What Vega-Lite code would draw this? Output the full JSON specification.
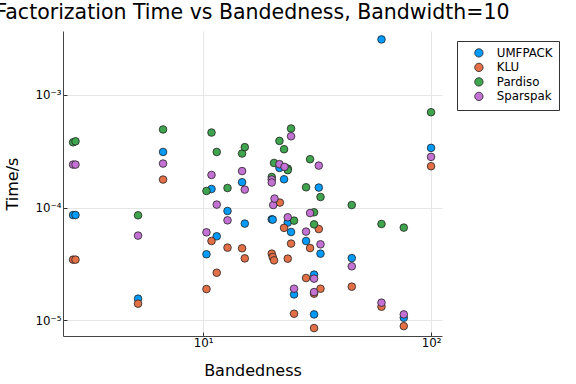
{
  "$schema": "https://vega.github.io/schema/vega-lite/v6.json",
  "width": 379,
  "height": 305,
  "autosize": {"type": "none"},
  "padding": {"left": 63, "top": 31, "right": 134, "bottom": 48},
  "background": "white",
  "title": {
    "text": "Factorization Time vs Bandedness, Bandwidth=10",
    "font": "DejaVu Sans",
    "fontSize": 20.5,
    "fontWeight": "normal",
    "color": "#000000",
    "anchor": "middle",
    "offset": 8
  },
  "config": {
    "view": {"stroke": null},
    "font": "DejaVu Sans",
    "axis": {
      "labelFont": "DejaVu Sans",
      "titleFont": "DejaVu Sans",
      "labelFontSize": 11.8,
      "titleFontSize": 16,
      "titleFontWeight": "normal",
      "labelColor": "#000000",
      "titleColor": "#000000",
      "domainColor": "#444444",
      "domainWidth": 1,
      "tickColor": "#333333",
      "tickSize": -4,
      "tickWidth": 1,
      "gridColor": "#e6e6e6",
      "gridWidth": 1
    },
    "legend": {
      "labelFont": "DejaVu Sans",
      "labelFontSize": 11.8,
      "labelColor": "#000000"
    }
  },
  "data": {
    "values": [
      {"s": "UMFPACK", "b": 2.69, "t": 8.59e-5},
      {"s": "UMFPACK", "b": 2.757, "t": 8.59e-5},
      {"s": "UMFPACK", "b": 5.186, "t": 1.553e-5},
      {"s": "UMFPACK", "b": 6.676, "t": 3.12e-4},
      {"s": "UMFPACK", "b": 10.35, "t": 3.85e-5},
      {"s": "UMFPACK", "b": 10.89, "t": 1.463e-4},
      {"s": "UMFPACK", "b": 11.48, "t": 5.56e-5},
      {"s": "UMFPACK", "b": 12.8, "t": 9.33e-5},
      {"s": "UMFPACK", "b": 14.83, "t": 1.68e-4},
      {"s": "UMFPACK", "b": 15.24, "t": 7.21e-5},
      {"s": "UMFPACK", "b": 20.01, "t": 7.87e-5},
      {"s": "UMFPACK", "b": 20.21, "t": 7.82e-5},
      {"s": "UMFPACK", "b": 21.63, "t": 2.25e-4},
      {"s": "UMFPACK", "b": 22.66, "t": 1.785e-4},
      {"s": "UMFPACK", "b": 23.52, "t": 7.36e-5},
      {"s": "UMFPACK", "b": 24.32, "t": 6.07e-5},
      {"s": "UMFPACK", "b": 25.07, "t": 1.695e-5},
      {"s": "UMFPACK", "b": 28.3, "t": 5.05e-5},
      {"s": "UMFPACK", "b": 30.68, "t": 2.54e-5},
      {"s": "UMFPACK", "b": 30.68, "t": 1.126e-5},
      {"s": "UMFPACK", "b": 32.18, "t": 1.506e-4},
      {"s": "UMFPACK", "b": 32.74, "t": 3.9e-5},
      {"s": "UMFPACK", "b": 44.9, "t": 3.56e-5},
      {"s": "UMFPACK", "b": 60.62, "t": 3.114e-3},
      {"s": "UMFPACK", "b": 75.93, "t": 1.052e-5},
      {"s": "UMFPACK", "b": 100, "t": 3.39e-4},
      {"s": "KLU", "b": 2.69, "t": 3.45e-5},
      {"s": "KLU", "b": 2.757, "t": 3.45e-5},
      {"s": "KLU", "b": 5.186, "t": 1.402e-5},
      {"s": "KLU", "b": 6.676, "t": 1.774e-4},
      {"s": "KLU", "b": 10.35, "t": 1.89e-5},
      {"s": "KLU", "b": 10.89, "t": 5.05e-5},
      {"s": "KLU", "b": 11.48, "t": 2.64e-5},
      {"s": "KLU", "b": 12.8, "t": 4.41e-5},
      {"s": "KLU", "b": 14.83, "t": 4.35e-5},
      {"s": "KLU", "b": 15.24, "t": 3.54e-5},
      {"s": "KLU", "b": 20.01, "t": 3.9e-5},
      {"s": "KLU", "b": 20.21, "t": 3.64e-5},
      {"s": "KLU", "b": 20.48, "t": 3.4e-5},
      {"s": "KLU", "b": 21.72, "t": 1.108e-4},
      {"s": "KLU", "b": 22.66, "t": 6.61e-5},
      {"s": "KLU", "b": 23.52, "t": 3.52e-5},
      {"s": "KLU", "b": 24.32, "t": 4.79e-5},
      {"s": "KLU", "b": 25.07, "t": 1.142e-5},
      {"s": "KLU", "b": 28.3, "t": 2.37e-5},
      {"s": "KLU", "b": 29.47, "t": 4.37e-5},
      {"s": "KLU", "b": 30.68, "t": 1.72e-5},
      {"s": "KLU", "b": 30.68, "t": 8.51e-6},
      {"s": "KLU", "b": 32.18, "t": 6.45e-5},
      {"s": "KLU", "b": 32.74, "t": 1.905e-5},
      {"s": "KLU", "b": 44.9, "t": 1.985e-5},
      {"s": "KLU", "b": 60.62, "t": 1.318e-5},
      {"s": "KLU", "b": 75.93, "t": 8.86e-6},
      {"s": "KLU", "b": 100, "t": 2.33e-4},
      {"s": "Pardiso", "b": 2.69, "t": 3.8e-4},
      {"s": "Pardiso", "b": 2.757, "t": 3.88e-4},
      {"s": "Pardiso", "b": 5.186, "t": 8.54e-5},
      {"s": "Pardiso", "b": 6.676, "t": 4.94e-4},
      {"s": "Pardiso", "b": 10.35, "t": 1.405e-4},
      {"s": "Pardiso", "b": 10.89, "t": 4.64e-4},
      {"s": "Pardiso", "b": 11.48, "t": 3.12e-4},
      {"s": "Pardiso", "b": 12.8, "t": 1.493e-4},
      {"s": "Pardiso", "b": 14.83, "t": 3.02e-4},
      {"s": "Pardiso", "b": 15.24, "t": 3.44e-4},
      {"s": "Pardiso", "b": 20.01, "t": 1.87e-4},
      {"s": "Pardiso", "b": 20.48, "t": 2.49e-4},
      {"s": "Pardiso", "b": 21.63, "t": 3.91e-4},
      {"s": "Pardiso", "b": 22.66, "t": 3.3e-4},
      {"s": "Pardiso", "b": 23.52, "t": 2.22e-4},
      {"s": "Pardiso", "b": 23.52, "t": 2.15e-4},
      {"s": "Pardiso", "b": 24.32, "t": 5.04e-4},
      {"s": "Pardiso", "b": 25.07, "t": 7.66e-5},
      {"s": "Pardiso", "b": 28.3, "t": 1.515e-4},
      {"s": "Pardiso", "b": 29.47, "t": 2.69e-4},
      {"s": "Pardiso", "b": 30.68, "t": 9.08e-5},
      {"s": "Pardiso", "b": 30.68, "t": 7.1e-5},
      {"s": "Pardiso", "b": 32.74, "t": 1.242e-4},
      {"s": "Pardiso", "b": 44.9, "t": 1.054e-4},
      {"s": "Pardiso", "b": 60.62, "t": 7.15e-5},
      {"s": "Pardiso", "b": 75.93, "t": 6.64e-5},
      {"s": "Pardiso", "b": 100, "t": 7.03e-4},
      {"s": "Sparspak", "b": 2.69, "t": 2.41e-4},
      {"s": "Sparspak", "b": 2.757, "t": 2.41e-4},
      {"s": "Sparspak", "b": 5.186, "t": 5.64e-5},
      {"s": "Sparspak", "b": 6.676, "t": 2.46e-4},
      {"s": "Sparspak", "b": 10.35, "t": 6.03e-5},
      {"s": "Sparspak", "b": 10.89, "t": 1.95e-4},
      {"s": "Sparspak", "b": 11.48, "t": 1.063e-4},
      {"s": "Sparspak", "b": 12.8, "t": 7.71e-5},
      {"s": "Sparspak", "b": 14.83, "t": 2.11e-4},
      {"s": "Sparspak", "b": 15.24, "t": 1.445e-4},
      {"s": "Sparspak", "b": 20.01, "t": 1.774e-4},
      {"s": "Sparspak", "b": 20.01, "t": 1.67e-4},
      {"s": "Sparspak", "b": 20.31, "t": 1.054e-4},
      {"s": "Sparspak", "b": 20.58, "t": 1.202e-4},
      {"s": "Sparspak", "b": 21.63, "t": 2.43e-4},
      {"s": "Sparspak", "b": 22.77, "t": 2.3e-4},
      {"s": "Sparspak", "b": 23.52, "t": 8.2e-5},
      {"s": "Sparspak", "b": 24.32, "t": 4.3e-4},
      {"s": "Sparspak", "b": 25.07, "t": 1.905e-5},
      {"s": "Sparspak", "b": 28.3, "t": 6.12e-5},
      {"s": "Sparspak", "b": 29.47, "t": 8.95e-5},
      {"s": "Sparspak", "b": 30.68, "t": 2.34e-5},
      {"s": "Sparspak", "b": 30.68, "t": 1.778e-5},
      {"s": "Sparspak", "b": 32.18, "t": 2.36e-4},
      {"s": "Sparspak", "b": 32.74, "t": 4.72e-5},
      {"s": "Sparspak", "b": 44.9, "t": 3.01e-5},
      {"s": "Sparspak", "b": 60.62, "t": 1.431e-5},
      {"s": "Sparspak", "b": 75.93, "t": 1.126e-5},
      {"s": "Sparspak", "b": 100, "t": 2.82e-4}
    ]
  },
  "mark": {"type": "point", "shape": "circle", "filled": true, "opacity": 1, "size": 58, "stroke": "#222222", "strokeWidth": 0.8},
  "encoding": {
    "x": {
      "field": "b",
      "type": "quantitative",
      "title": "Bandedness",
      "scale": {"type": "log", "domain": [2.43, 111.7], "nice": false},
      "axis": {"values": [10, 100], "labelExpr": "datum.value == 10 ? '10¹' : '10²'", "labelPadding": 5, "titlePadding": 14}
    },
    "y": {
      "field": "t",
      "type": "quantitative",
      "title": "Time/s",
      "scale": {"type": "log", "domain": [7.24e-6, 3.7e-3], "nice": false},
      "axis": {"values": [1e-5, 1e-4, 1e-3], "labelExpr": "datum.value < 5e-5 ? '10⁻⁵' : (datum.value < 5e-4 ? '10⁻⁴' : '10⁻³')", "labelPadding": 6, "titlePadding": 15}
    },
    "color": {
      "field": "s",
      "type": "nominal",
      "scale": {"domain": ["UMFPACK", "KLU", "Pardiso", "Sparspak"], "range": ["#009AFA", "#E36F47", "#3EA44E", "#C371D2"]},
      "legend": {
        "title": null,
        "orient": "none",
        "legendX": 394,
        "legendY": 10,
        "strokeColor": "#333333",
        "padding": 6,
        "symbolOffset": 10,
        "symbolType": "circle",
        "symbolSize": 70,
        "symbolStrokeColor": "#222222",
        "symbolStrokeWidth": 0.8,
        "symbolOpacity": 1,
        "labelOffset": 12,
        "rowPadding": 1.5
      }
    }
  }
}
